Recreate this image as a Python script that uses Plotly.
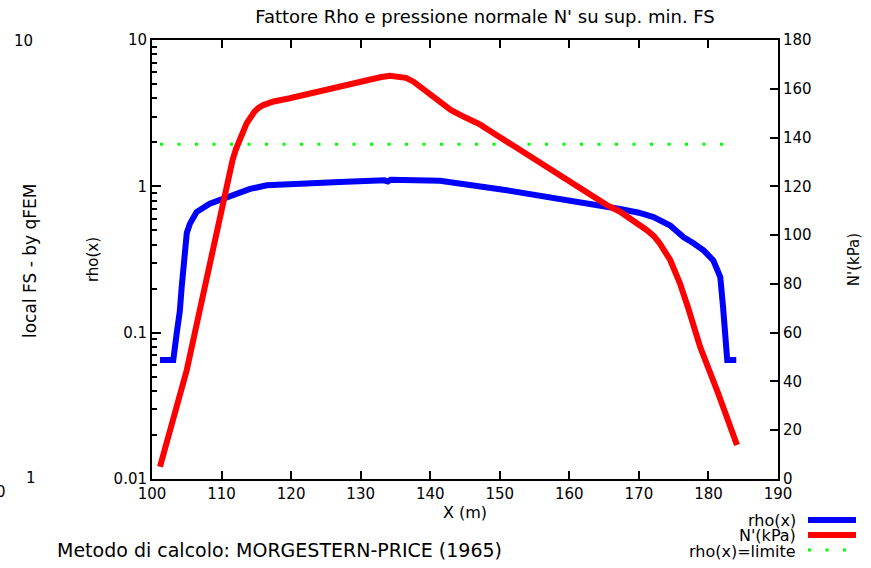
import plotly.graph_objects as go

# rho(x) - left log axis
rho_x = [101.15, 103.06, 103.55, 104.0, 104.27, 104.74, 105.0, 105.46, 106.4, 108.3, 110.25,
         112.7, 114.1, 116.5, 119.8, 127.0, 133.4, 133.9, 134.3, 141.4, 151.0, 160.5, 165.4,
         167.3, 170.0, 172.1, 174.5, 176.4, 177.8, 179.3, 180.7, 181.7, 182.1, 182.7, 184.0]
rho_v = [0.065, 0.065, 0.099, 0.14, 0.205, 0.406, 0.48, 0.556, 0.667, 0.76, 0.82,
         0.90, 0.96, 1.016, 1.04, 1.07, 1.10, 1.08, 1.11, 1.09, 0.94, 0.80, 0.74,
         0.70, 0.66, 0.617, 0.54, 0.45, 0.41, 0.365, 0.312, 0.24, 0.15, 0.065, 0.065]

# N'(kPa) - right axis
n_x = [101.15, 103.0, 105.0, 107.0, 109.06, 110.25, 111.6, 112.1, 112.6, 113.6, 114.7, 115.3,
       116.0, 117.5, 119.8, 123.0, 127.0, 130.0, 132.8, 134.2, 135.2, 136.5, 137.6, 138.8,
       140.0, 141.4, 143.0, 145.0, 147.2, 149.0, 151.0, 158.2, 165.4, 167.3, 169.5, 171.1,
       172.2, 173.0, 174.5, 175.9, 177.1, 178.8, 181.4, 182.6, 184.1]
n_v = [5.0, 24.0, 44.7, 71.0, 98.0, 115.7, 131.0, 135.5, 139.5, 145.8, 150.5, 152.2,
       153.3, 154.8, 156.1, 158.3, 160.8, 162.9, 164.7, 165.3, 165.2, 164.5, 162.9, 160.3,
       157.2, 154.5, 151.2, 148.3, 145.3, 142.0, 138.3, 125.3, 112.3, 109.6, 105.4, 102.1,
       99.5, 96.6, 89.8, 80.2, 70.0, 54.2, 35.1, 25.5, 13.9]

# rho(x) = limite
lim_x = [101.15, 182.2]
lim_v = [1.94, 1.94]

W, H = 871, 568
L, R, T, B = 152, 778, 40, 479
FONT = "DejaVu Sans"
DOTS = "3px,14.5px"


def px(x):
    return (x - L) / (R - L)


def py(y):
    return (B - y) / (B - T)


fig = go.Figure()
fig.add_trace(go.Scatter(x=rho_x, y=rho_v, mode="lines", line=dict(color="#0000ff", width=6),
                         yaxis="y", showlegend=False))
fig.add_trace(go.Scatter(x=n_x, y=n_v, mode="lines", line=dict(color="#ff0000", width=6),
                         yaxis="y2", showlegend=False))
fig.add_trace(go.Scatter(x=lim_x, y=lim_v, mode="lines",
                         line=dict(color="#00ff00", width=3, dash=DOTS),
                         yaxis="y", showlegend=False))

minor_vals = [m * 10 ** e for e in (-2, -1, 0) for m in range(2, 10)]

axis_common = dict(showline=True, linewidth=2, linecolor="black", ticks="inside",
                   tickcolor="black", tickwidth=2, showgrid=False, zeroline=False,
                   tickfont=dict(size=15, color="black"))

fig.update_layout(
    width=W, height=H,
    margin=dict(l=L, r=W - R, t=T, b=H - B),
    paper_bgcolor="white", plot_bgcolor="white",
    font=dict(family=FONT, color="black", size=15),
    title=dict(text="Fattore Rho e pressione normale N' su sup. min. FS",
               x=px(485), xref="paper", xanchor="center", y=1 - 17 / H, yanchor="middle",
               font=dict(size=18)),
    xaxis=dict(range=[100, 190], tickvals=list(range(100, 191, 10)), ticklen=8,
               mirror="ticks",
               title=dict(text="X (m)", standoff=0, font=dict(size=16)),
               **axis_common),
    yaxis=dict(type="log", range=[-2, 1], tickvals=[0.01, 0.1, 1, 10],
               ticktext=["0.01", "0.1", "1", "10"], ticklen=9,
               minor=dict(tickvals=minor_vals, ticks="inside", ticklen=5,
                          tickcolor="black", tickwidth=2, showgrid=False),
               title=dict(text="rho(x)", standoff=11, font=dict(size=15)),
               **axis_common),
    yaxis2=dict(overlaying="y", side="right", range=[0, 180],
                tickvals=list(range(0, 181, 20)), ticklen=8,
                title=dict(text="N'(kPa)", standoff=38, font=dict(size=15)),
                **axis_common),
)

annotations = [
    dict(text="local FS - by qFEM", x=px(30), y=py(261), textangle=-90, font=dict(size=17)),
    dict(text="10", x=px(23), y=py(41), font=dict(size=15)),
    dict(text="1", x=px(31), y=py(478), font=dict(size=15)),
    dict(text="0", x=px(1), y=py(492), font=dict(size=15)),
    dict(text="Metodo di calcolo: MORGESTERN-PRICE (1965)", x=px(55), y=py(550),
         xanchor="left", font=dict(size=19)),
    dict(text="rho(x)", x=px(798), y=py(520), xanchor="right", font=dict(size=16)),
    dict(text="N'(kPa)", x=px(798), y=py(535), xanchor="right", font=dict(size=16)),
    dict(text="rho(x)=limite", x=px(798), y=py(551), xanchor="right", font=dict(size=16)),
]
for a in annotations:
    a.setdefault("xanchor", "center")
    fig.add_annotation(xref="paper", yref="paper", yanchor="middle", showarrow=False, **a)

for yy, col, w, dash in [(520, "#0000ff", 6, "solid"), (535, "#ff0000", 6, "solid"),
                         (550, "#00ff00", 3, DOTS)]:
    fig.add_shape(type="line", xref="paper", yref="paper", x0=px(808), x1=px(856),
                  y0=py(yy), y1=py(yy), line=dict(color=col, width=w, dash=dash))

# drop the browser's default 8px body margin so the figure sits at the page origin
fig.write_html("out.html", config={"displayModeBar": False},
               post_script="document.body.style.margin='0';")
